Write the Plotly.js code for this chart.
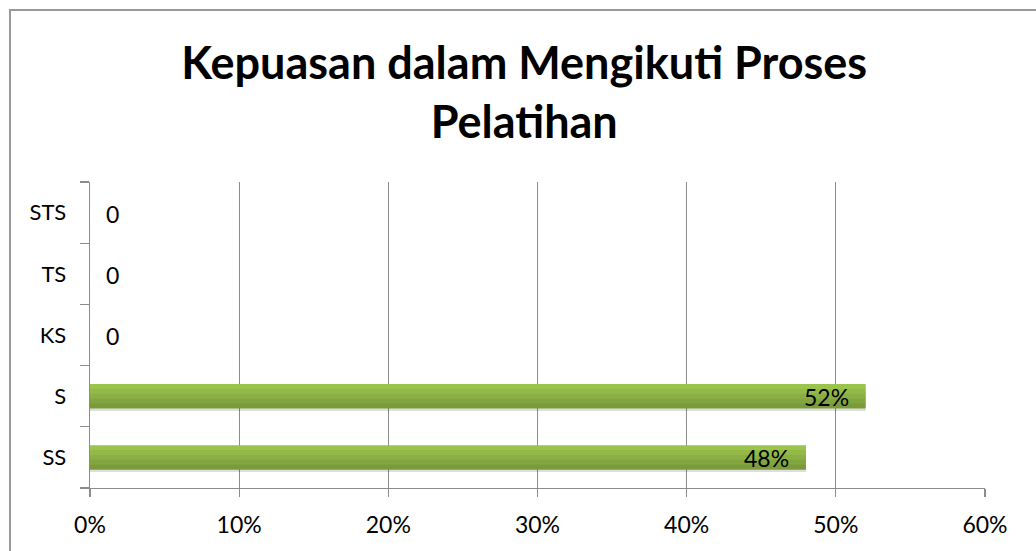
<!DOCTYPE html>
<html>
<head>
<meta charset="utf-8">
<script src="https://cdn.plot.ly/plotly-3.0.1.min.js"></script>
<style>
html,body{margin:0;padding:0;background:#fff;}
#chart{width:1036px;height:551px;}
</style>
</head>
<body>
<div id="chart"></div>
<script>
const categories = ['SS', 'S', 'KS', 'TS', 'STS'];
const values = [0.48, 0.52, 0, 0, 0];
const labels = ['48%', '52%', '0', '0', '0'];
const xTickVals = [0, 0.1, 0.2, 0.3, 0.4, 0.5, 0.6];
const xTickText = ['0%', '10%', '20%', '30%', '40%', '50%', '60%'];

const FONT = 'Lato, "Open Sans", sans-serif';

// gradient bands (style only): bottom dark -> top light
const bandColors = ['#7a9b3a', '#82a53f', '#8aaf44', '#93ba48', '#9bc44d'];
const barWidth = 0.4;
const bandW = barWidth / bandColors.length;

const traces = [];
traces.push({
  type: 'bar', orientation: 'h', y: categories, x: values,
  marker: {color: 'rgba(0,0,0,0.13)'}, width: barWidth, offset: -barWidth / 2 - 0.04,
  hoverinfo: 'skip', showlegend: false
});
bandColors.forEach((col, k) => {
  traces.push({
    type: 'bar', orientation: 'h', y: categories, x: values,
    marker: {color: col, line: {width: 0}},
    width: k === bandColors.length - 1 ? bandW : bandW + 0.02,
    offset: -barWidth / 2 + k * bandW,
    hoverinfo: 'skip', showlegend: false
  });
});

const annotations = categories.map((c, i) => {
  const v = values[i];
  if (v > 0) {
    return {x: v, y: c, xref: 'x', yref: 'y', text: labels[i], showarrow: false,
      xanchor: 'right', xshift: -15, yshift: -1, font: {family: FONT, size: 23, color: '#000'}};
  }
  return {x: v, y: c, xref: 'x', yref: 'y', text: labels[i], showarrow: false,
    xanchor: 'left', xshift: 14, yshift: -1, font: {family: FONT, size: 23, color: '#000'}};
});

const layout = {
  width: 1036, height: 551,
  margin: {l: 90, r: 51, t: 182, b: 63},
  paper_bgcolor: '#fff', plot_bgcolor: '#fff',
  barmode: 'overlay',
  font: {family: FONT, size: 23, color: '#000'},
  title: {
    text: '<b>Kepuasan dalam Mengikuti Proses<br>Pelatihan</b>',
    x: 0.506, xanchor: 'center', yref: 'container', y: 1 - 79 / 551, yanchor: 'middle',
    font: {family: FONT, size: 45, color: '#000'}
  },
  xaxis: {
    range: [0, 0.6], tickvals: xTickVals, ticktext: xTickText,
    showgrid: true, gridcolor: '#8c8c8c', gridwidth: 1.3,
    showline: true, linecolor: '#8c8c8c', linewidth: 1.3,
    ticks: 'outside', ticklen: 8, tickcolor: '#8c8c8c', tickwidth: 1.3,
    ticklabelstandoff: 8,
    zeroline: false, fixedrange: true,
    tickfont: {family: FONT, size: 23, color: '#000'}
  },
  yaxis: {
    type: 'category', categoryorder: 'array', categoryarray: categories,
    showline: true, linecolor: '#8c8c8c', linewidth: 1.3,
    ticks: 'outside', tickson: 'boundaries', ticklen: 9, tickcolor: '#8c8c8c', tickwidth: 1.3,
    showgrid: false, zeroline: false, fixedrange: true,
    ticklabelstandoff: 18,
    tickfont: {family: FONT, size: 22, color: '#000'}
  },
  annotations: annotations,
  shapes: [{
    type: 'rect', xref: 'paper', yref: 'paper',
    x0: -0.0894, x1: 1.2, y0: -0.5, y1: 1.562,
    line: {color: '#999', width: 2}, fillcolor: 'rgba(0,0,0,0)', layer: 'below'
  }]
};

Plotly.newPlot('chart', traces, layout, {displayModeBar: false, staticPlot: true});
</script>
</body>
</html>
